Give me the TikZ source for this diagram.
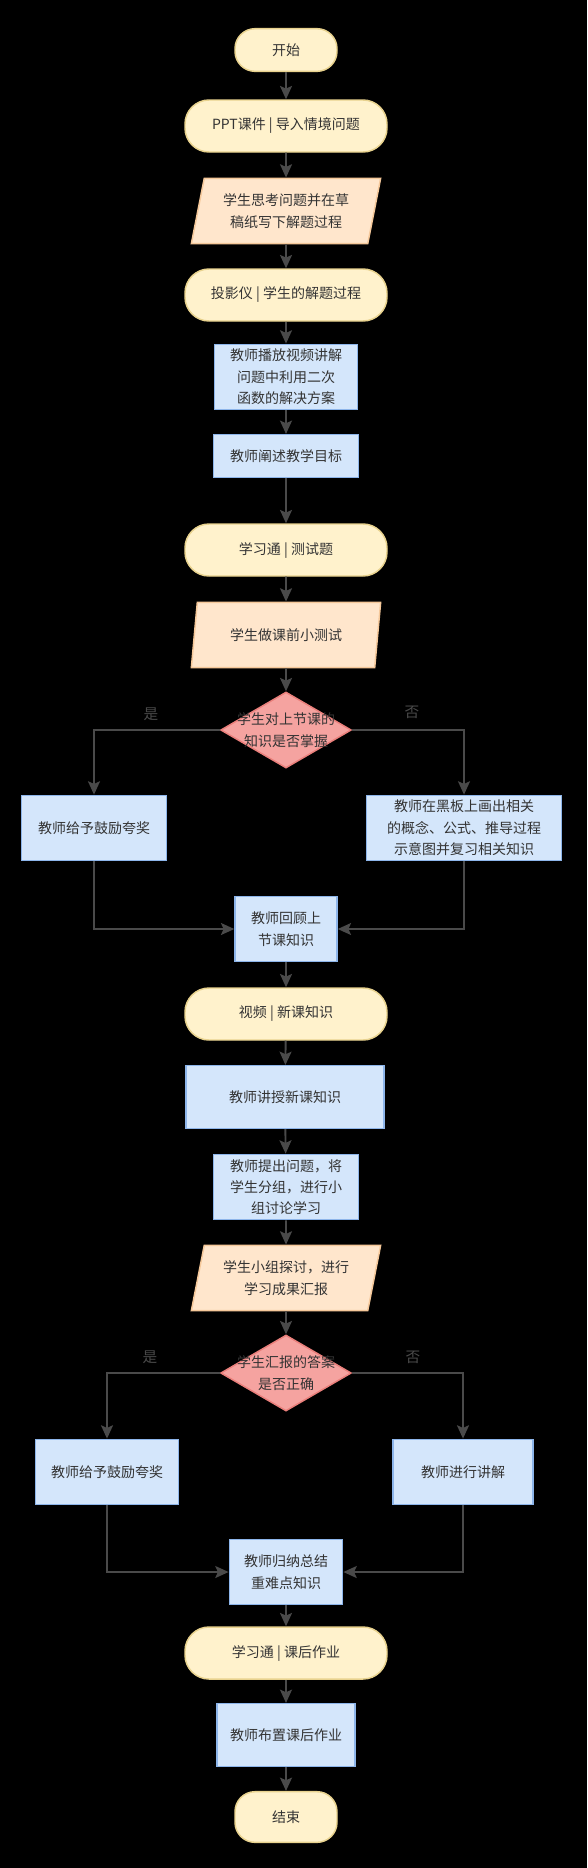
\documentclass[tikz,border=0pt]{standalone}
\usepackage{fontspec}
\setmainfont{Noto Sans CJK SC}
\usetikzlibrary{shapes.geometric,arrows.meta}

\definecolor{termfill}{HTML}{FFF2CC}
\definecolor{termline}{HTML}{E8D28E}
\definecolor{taskfill}{HTML}{D4E6FB}
\definecolor{taskline}{HTML}{8DB5EA}
\definecolor{iofill}{HTML}{FFE6CC}
\definecolor{ioline}{HTML}{F5C89A}
\definecolor{decfill}{HTML}{F5A3A0}
\definecolor{decline}{HTML}{EA7F7B}
\definecolor{flowgray}{HTML}{4A4A4A}
\definecolor{txtgray}{HTML}{333333}

\tikzset{
  base/.style={font=\fontsize{10.5}{16}\selectfont, text=txtgray, align=center, inner sep=2pt, line width=1.1pt},
  terminal/.style={base, rectangle, rounded corners=15pt, fill=termfill, draw=termline, minimum width=76.5pt, minimum height=32pt},
  media/.style={base, rectangle, rounded corners=18pt, fill=termfill, draw=termline, minimum width=151.5pt, minimum height=39pt},
  task/.style={base, rectangle, fill=taskfill, draw=taskline, minimum height=49pt},
  iobox/.style={base, trapezium, trapezium left angle=72, trapezium right angle=108, trapezium stretches body=true, fill=iofill, draw=ioline, minimum width=142pt, minimum height=49pt},
  decision/.style={diamond, fill=decfill, draw=decline, line width=1.1pt, minimum width=98pt, minimum height=57pt, inner sep=0pt},
  dectext/.style={font=\fontsize{10.5}{16}\selectfont, text=txtgray, align=center, inner sep=0pt},
  flow/.style={draw=flowgray, line width=1.4pt, -{Stealth[length=10pt,width=9pt,inset=2pt]}},
  lbl/.style={font=\fontsize{11}{13}\selectfont, text=flowgray, inner sep=0pt},
}

\begin{document}
\begin{tikzpicture}[x=0.75pt, y=-0.75pt]
  \fill[black] (0,0) rectangle (587,1868);

  % Warm-up part
  \node[terminal] (start) at (286,50) {开始};
  \node[media] (ppt) at (286,126) {PPT课件 | 导入情境问题};
  \node[iobox] (think) at (286,211) {学生思考问题并在草\\稿纸写下解题过程};
  \node[media] (proj) at (286,295) {投影仪 | 学生的解题过程};
  \node[task, minimum width=107pt] (play) at (286,377) {教师播放视频讲解\\问题中利用二次\\函数的解决方案};
  \node[task, minimum width=109pt, minimum height=32pt] (goal) at (286,456) {教师阐述教学目标};
  \node[media] (xxt1) at (286,550) {学习通 | 测试题};
  \node[iobox] (quiz) at (286,635) {学生做课前小测试};

  % First check
  \node[decision] (chk1) at (286,730) {};
  \node[dectext] (chk1txt) at (chk1) {学生对上节课的\\知识是否掌握};
  \node[task, minimum width=109pt] (praise1) at (94,828) {教师给予鼓励夸奖};
  \node[task, minimum width=146pt] (review) at (464,828) {教师在黑板上画出相关\\的概念、公式、推导过程\\示意图并复习相关知识};
  \node[task, minimum width=76.5pt] (recall) at (286,929) {教师回顾上\\节课知识};

  % New lesson
  \node[media] (video) at (286,1014) {视频 | 新课知识};
  \node[task, minimum width=148.5pt, minimum height=47pt] (teach) at (285,1097) {教师讲授新课知识};
  \node[task, minimum width=109pt] (group) at (286,1187) {教师提出问题，将\\学生分组，进行小\\组讨论学习};
  \node[iobox] (report) at (286,1278) {学生小组探讨，进行\\学习成果汇报};

  % Second check
  \node[decision] (chk2) at (286,1373) {};
  \node[dectext] (chk2txt) at (chk2) {学生汇报的答案\\是否正确};
  \node[task, minimum width=107pt] (praise2) at (107,1472) {教师给予鼓励夸奖};
  \node[task, minimum width=105pt] (explain) at (463,1472) {教师进行讲解};
  \node[task, minimum width=85pt] (sum) at (286,1572) {教师归纳总结\\重难点知识};

  % Homework
  \node[media] (xxt2) at (286,1653) {学习通 | 课后作业};
  \node[task, minimum width=103.5pt, minimum height=47pt] (hw) at (286,1735) {教师布置课后作业};
  \node[terminal, minimum height=38pt] (stop) at (286,1817) {结束};

  % Branch labels
  \node[lbl] (yes1) at (151,714) {是};
  \node[lbl] (no1) at (412,712) {否};
  \node[lbl] (yes2) at (150,1357) {是};
  \node[lbl] (no2) at (413,1357) {否};

  % Main column
  \draw[flow] (start) -- (ppt);
  \draw[flow] (ppt) -- (think);
  \draw[flow] (think) -- (proj);
  \draw[flow] (proj) -- (play);
  \draw[flow] (play) -- (goal);
  \draw[flow] (goal) -- (xxt1);
  \draw[flow] (xxt1) -- (quiz);
  \draw[flow] (quiz) -- (chk1);
  \draw[flow] (chk1.west) -| (praise1.north);
  \draw[flow] (chk1.east) -| (review.north);
  \draw[flow] (praise1.south) |- (recall.west);
  \draw[flow] (review.south) |- (recall.east);
  \draw[flow] (recall) -- (video);
  \draw[flow] (video) -- (teach);
  \draw[flow] (teach) -- (group);
  \draw[flow] (group) -- (report);
  \draw[flow] (report) -- (chk2);
  \draw[flow] (chk2.west) -| (praise2.north);
  \draw[flow] (chk2.east) -| (explain.north);
  \draw[flow] (praise2.south) |- (sum.west);
  \draw[flow] (explain.south) |- (sum.east);
  \draw[flow] (sum) -- (xxt2);
  \draw[flow] (xxt2) -- (hw);
  \draw[flow] (hw) -- (stop);
\end{tikzpicture}
\end{document}
